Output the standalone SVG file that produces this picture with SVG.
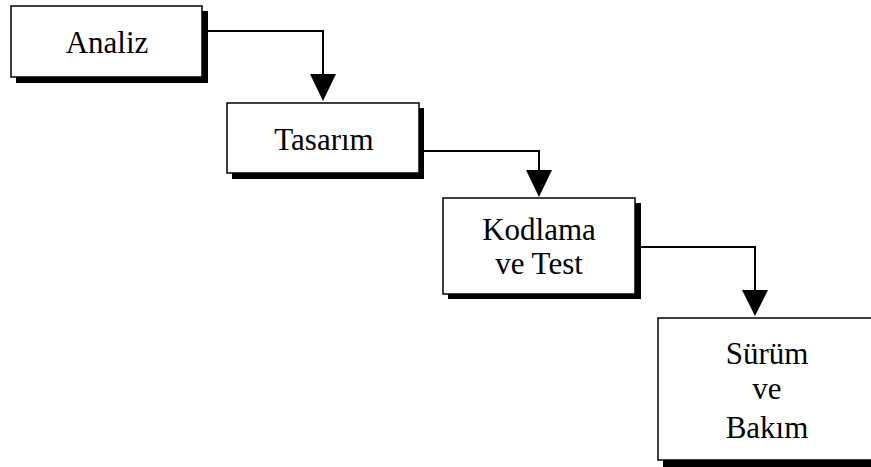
<svg xmlns="http://www.w3.org/2000/svg" width="871" height="467" viewBox="0 0 871 467">
<style>
.box{fill:#fff;stroke:#000;stroke-width:1.5}
.sh{fill:#000}
.t{font-family:"Liberation Serif","Times New Roman",serif;font-size:31px;fill:#000;text-anchor:middle}
.c{fill:none;stroke:#000;stroke-width:2}
.ah{fill:#000}
</style>
<rect width="871" height="467" fill="#fff"/>
<g id="connectors">
<path class="c" d="M208,31 H323 V76"/>
<polygon class="ah" points="310,74 336,74 323,101"/>
<path class="c" d="M424,151 H539 V172"/>
<polygon class="ah" points="526,170 552,170 539,197"/>
<path class="c" d="M641,247 H755 V292"/>
<polygon class="ah" points="742,290 768,290 755,316"/>
</g>
<g id="analiz">
<rect class="sh" x="16" y="11" width="192" height="72"/>
<rect class="box" x="11" y="6" width="191" height="71"/>
<text class="t" x="107" y="53">Analiz</text>
</g>
<g id="tasarim">
<rect class="sh" x="232" y="108" width="192" height="71"/>
<rect class="box" x="227" y="103" width="192" height="70"/>
<text class="t" x="324" y="150">Tasarım</text>
</g>
<g id="kodlama">
<rect class="sh" x="448" y="203" width="193" height="96"/>
<rect class="box" x="443" y="198" width="192" height="96"/>
<text class="t" x="539" y="240">Kodlama</text>
<text class="t" x="539" y="274">ve Test</text>
</g>
<g id="surum">
<rect class="sh" x="663" y="323" width="230" height="144"/>
<rect class="box" x="658" y="318" width="230" height="142"/>
<text class="t" x="767" y="364">Sürüm</text>
<text class="t" x="767" y="399">ve</text>
<text class="t" x="767" y="438">Bakım</text>
</g>
</svg>
